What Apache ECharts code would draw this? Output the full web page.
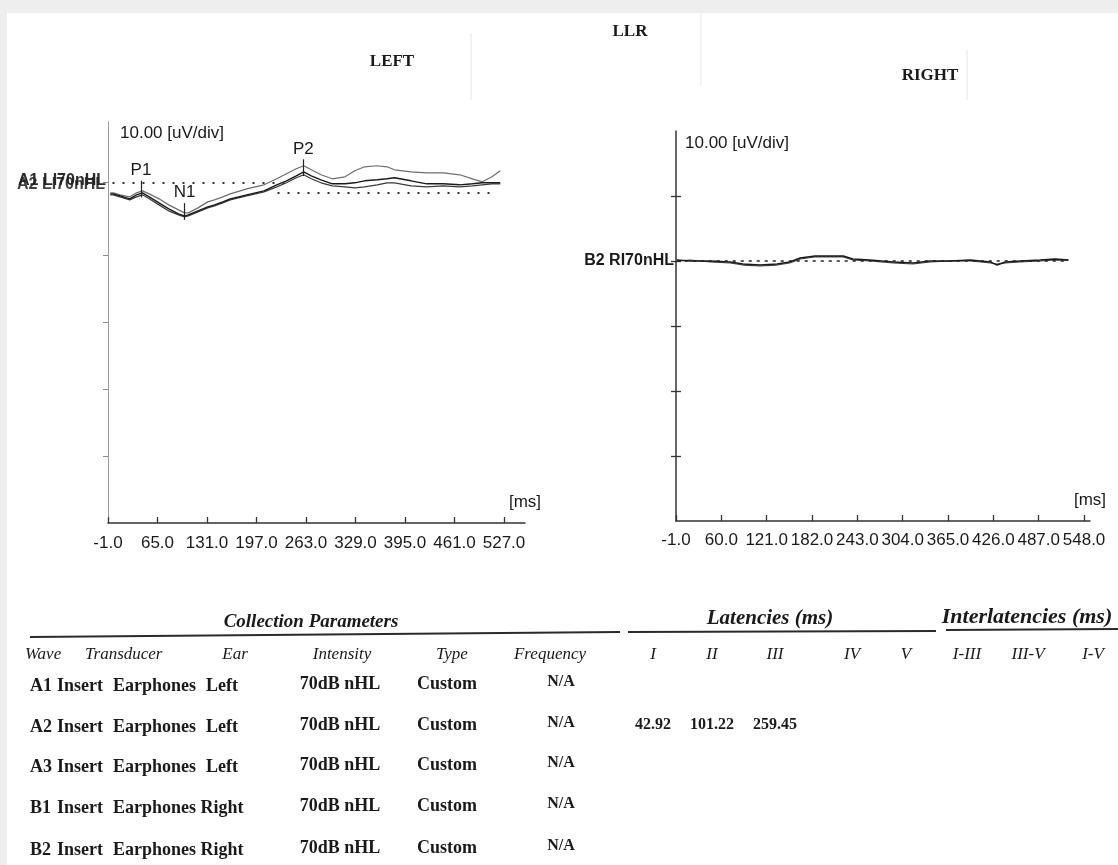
<!DOCTYPE html>
<html><head><meta charset="utf-8">
<script src="https://cdn.jsdelivr.net/npm/echarts@6/dist/echarts.min.js"></script>
<style>
html,body{margin:0;padding:0;background:#eeeeee;}
#chart{position:absolute;left:0;top:0;width:1118px;height:865px;background:#ffffff;box-shadow:inset 7px 13px 0 #eeeeee;}
</style></head><body><div id="chart"></div>
<script>
// ---------- data ----------
const leftTimes = [2,6,15,28,37,45,54,67,80,93,101,106,119,132,141,152,162,184,207,224,237,250,260,270,283,298,315,328,341,358,371,381,403,424,446,468,485,498,511,522];
const traceA1 = [-0.6,-0.6,-0.9,-1.2,-0.6,-0.3,-0.75,-1.5,-2.4,-3.15,-3.6,-3.6,-2.85,-1.95,-1.65,-1.2,-0.75,0,0.6,1.5,2.25,3.0,3.45,2.85,2.1,1.5,1.8,2.7,3.3,3.45,3.3,2.85,2.55,2.4,2.4,2.1,1.5,1.05,1.8,2.7];
const traceA2 = [-0.75,-0.75,-1.05,-1.5,-0.9,-0.6,-1.2,-2.1,-3.0,-3.75,-4.05,-3.9,-3.3,-2.7,-2.4,-1.95,-1.5,-0.9,-0.3,0.6,1.2,1.95,2.55,1.95,1.35,0.75,0.75,0.9,1.2,1.35,1.5,1.65,1.2,0.75,0.75,0.6,0.75,0.9,0.9,0.9];
const traceA3 = [-0.9,-0.9,-1.2,-1.65,-1.2,-0.9,-1.5,-2.4,-3.3,-3.9,-4.2,-4.05,-3.45,-2.85,-2.55,-2.1,-1.65,-1.05,-0.45,0.3,0.9,1.65,2.1,1.5,0.9,0.45,0.3,0.15,0.3,0.6,0.9,0.9,0.45,0.3,0.45,0.3,0.45,0.6,0.75,0.75];
const rightTimes = [0,18,45,72,89,112,135,152,166,186,224,237,260,291,318,341,368,395,422,431,442,462,489,509,527];
const traceB1 = [0,0.15,-0.15,-0.31,-0.62,-0.77,-0.62,-0.31,0.31,0.62,0.62,0.15,0,-0.31,-0.46,-0.15,0,0,-0.31,-0.46,-0.31,-0.15,0,0.15,0.15];
const traceB2 = [0.15,0,0,-0.15,-0.46,-0.62,-0.46,-0.15,0.46,0.77,0.77,0.31,0.15,-0.15,-0.31,0,0,0.15,-0.15,-0.62,-0.15,0,0.15,0.31,0.15];
const peakNames = ['P1','N1','P2'];
const peakLatencies = [42.92,101.22,259.45];
const leftTicks = [-1,65,131,197,263,329,395,461,527];
const rightTicks = [-1,60,121,182,243,304,365,426,487,548];
const leftTraceLabelTop = 'A1 LI70nHL';
const leftTraceLabelBottom = 'A2 LI70nHL';
const rightTraceLabel = 'B2 RI70nHL';
const scaleText = '10.00 [uV/div]';
const unitText = '[ms]';

const waves = ['A1','A2','A3','B1','B2'];
const transducerA = ['Insert','Insert','Insert','Insert','Insert'];
const transducerB = ['Earphones','Earphones','Earphones','Earphones','Earphones'];
const ears = ['Left','Left','Left','Right','Right'];
const intensities = ['70dB nHL','70dB nHL','70dB nHL','70dB nHL','70dB nHL'];
const types = ['Custom','Custom','Custom','Custom','Custom'];
const frequencies = ['N/A','N/A','N/A','N/A','N/A'];
const latencies = [[],['42.92','101.22','259.45'],[],[],[]];
const paramHeaders = ['Wave','Transducer','Ear','Intensity','Type','Frequency'];
const latencyHeaders = ['I','II','III','IV','V'];
const interHeaders = ['I-III','III-V','I-V'];

// ---------- helpers ----------
function interp(ts, vs, t){
  for(let i=0;i<ts.length-1;i++){
    if(t>=ts[i] && t<=ts[i+1]){const f=(t-ts[i])/(ts[i+1]-ts[i]);return vs[i]+f*(vs[i+1]-vs[i]);}
  }
  return vs[vs.length-1];
}
const pairs=(ts,vs)=>ts.map((t,i)=>[t,vs[i]]);
function fontExists(name){
  const c=document.createElement('canvas').getContext('2d');
  c.font='40px monospace'; const a=c.measureText('mmmmiiii0123').width;
  c.font='40px "'+name+'", monospace'; const b=c.measureText('mmmmiiii0123').width;
  return Math.abs(a-b)>0.5;
}
const HAS_NARROW=fontExists('Liberation Sans Narrow');
const SANS='"Liberation Sans", Arial, sans-serif';
const NARROW=HAS_NARROW?'"Liberation Sans Narrow", "Liberation Sans", sans-serif':SANS;
const TICK_SIZE=HAS_NARROW?19:17;
const NAME_SIZE=HAS_NARROW?19:17;
const SERIF='"Liberation Serif", "Times New Roman", serif';
function txt(text,x,y,font,align){
  return {type:'text',silent:true,z:10,style:{text:text,x:x,y:y,font:font,fill:'#1a1a1a',align:align||'left',verticalAlign:'middle'}};
}
function ln(x1,y1,x2,y2,color,w){
  return {type:'line',silent:true,z:5,shape:{x1:x1,y1:y1,x2:x2,y2:y2},style:{stroke:color,lineWidth:w}};
}

// ---------- graphic (titles + table) ----------
const g=[];
g.push(ln(471,33,471,100,'#e4e4e4',1));
g.push(ln(701,13,701,85,'#e4e4e4',1));
g.push(ln(967,50,967,100,'#e4e4e4',1));
g.push(txt('LLR',630,32,'bold 17px '+SERIF,'center'));
g.push(txt('LEFT',392,62,'bold 17px '+SERIF,'center'));
g.push(txt('RIGHT',930,76,'bold 17px '+SERIF,'center'));

g.push(txt('Collection Parameters',311,622,'bold italic 19px '+SERIF,'center'));
g.push(txt('Latencies (ms)',770,619,'bold italic 21px '+SERIF,'center'));
g.push(txt('Interlatencies (ms)',1027,617,'bold italic 22px '+SERIF,'center'));
g.push(ln(30,637,620,632,'#2a2a2a',2));
g.push(ln(628,632,936,631,'#2a2a2a',2));
g.push(ln(946,630,1118,629,'#2a2a2a',2));

const hy=655, hf='italic 17px '+SERIF;
g.push(txt(paramHeaders[0],25,hy,hf,'left'));
g.push(txt(paramHeaders[1],85,hy,hf,'left'));
g.push(txt(paramHeaders[2],235,hy,hf,'center'));
g.push(txt(paramHeaders[3],342,hy,hf,'center'));
g.push(txt(paramHeaders[4],452,hy,hf,'center'));
g.push(txt(paramHeaders[5],550,hy,hf,'center'));
const latX=[653,712,775,852,906];
latencyHeaders.forEach((h,i)=>g.push(txt(h,latX[i],hy,hf,'center')));
const intX=[967,1028,1093];
interHeaders.forEach((h,i)=>g.push(txt(h,intX[i],hy,hf,'center')));

const rowY=[686,727,767,808,850], rf='bold 18px '+SERIF;
waves.forEach((w,i)=>{
  const y=rowY[i];
  g.push(txt(w,30,y,rf,'left'));
  g.push(txt(transducerA[i],57,y,rf,'left'));
  g.push(txt(transducerB[i],113,y,rf,'left'));
  g.push(txt(ears[i],222,y,rf,'center'));
  g.push(txt(intensities[i],340,y-2,rf,'center'));
  g.push(txt(types[i],447,y-2,rf,'center'));
  g.push(txt(frequencies[i],561,y-4,'bold 16px '+SERIF,'center'));
  latencies[i].forEach((v,j)=>g.push(txt(v,latX[j],y-2,'bold 16px '+SERIF,'center')));
});

// ---------- chart ----------
const chart=echarts.init(document.getElementById('chart'),null,{renderer:'canvas'});
const axisFont={fontFamily:NARROW,fontSize:TICK_SIZE,color:'#1a1a1a'};
const nameFont={fontFamily:NARROW,fontSize:NAME_SIZE,color:'#1a1a1a'};

const peakLines=peakNames.map((n,i)=>{
  const v=interp(leftTimes,traceA2,peakLatencies[i]);
  return [{coord:[peakLatencies[i],v-0.6],label:{show:true,position:'end',formatter:n,fontFamily:NARROW,fontSize:NAME_SIZE,color:'#1a1a1a',distance:2},lineStyle:{type:'solid',color:'#222',width:1.2}},
          {coord:[peakLatencies[i],v+1.9]}];
});
const baseLines=[
  [{coord:[5,0.95],label:{show:false},lineStyle:{type:[2,8],color:'#333',width:1.8}},{coord:[240,0.95]}],
  [{coord:[225,-0.55],label:{show:false},lineStyle:{type:[2,8],color:'#333',width:1.8}},{coord:[518,-0.55]}]
];
const yLabelCommon={margin:2,fontFamily:NARROW,fontSize:HAS_NARROW?19:16,fontWeight:'bold',hideOverlap:false};

const option={
  animation:false,
  backgroundColor:'transparent',
  graphic:g,
  grid:[
    {left:108,top:122,width:417,height:401,containLabel:false},
    {left:676,top:131,width:414,height:390,containLabel:false}
  ],
  xAxis:[
    {type:'value',gridIndex:0,min:-1,max:555,position:'bottom',splitLine:{show:false},
     axisLine:{onZero:false,lineStyle:{color:'#333',width:1.5}},
     axisTick:{inside:true,length:6,customValues:leftTicks,lineStyle:{color:'#333',width:1.3}},
     axisLabel:Object.assign({customValues:leftTicks,margin:12,formatter:v=>v.toFixed(1)},axisFont),
     name:unitText,nameLocation:'end',nameGap:0,
     nameTextStyle:Object.assign({align:'center',verticalAlign:'bottom',padding:[0,0,12,0]},nameFont)},
    {type:'value',gridIndex:1,min:-1,max:556,position:'bottom',splitLine:{show:false},
     axisLine:{onZero:false,lineStyle:{color:'#333',width:1.5}},
     axisTick:{inside:true,length:6,customValues:rightTicks,lineStyle:{color:'#333',width:1.3}},
     axisLabel:Object.assign({customValues:rightTicks,margin:11,formatter:v=>v.toFixed(1)},axisFont),
     name:unitText,nameLocation:'end',nameGap:0,
     nameTextStyle:Object.assign({align:'center',verticalAlign:'bottom',padding:[0,0,12,0]},nameFont)}
  ],
  yAxis:[
    {type:'value',gridIndex:0,min:-50,max:10,position:'left',splitLine:{show:false},
     axisLine:{show:true,onZero:false,lineStyle:{color:'#9a9a9a',width:1}},
     axisTick:{show:true,length:5,customValues:[-40,-30,-20,-10,1.0],lineStyle:{color:'#888',width:1}},
     axisLabel:Object.assign({customValues:[1.3],color:'#2a2a2a',formatter:()=>leftTraceLabelTop},yLabelCommon),
     name:scaleText,nameLocation:'end',nameGap:-11,
     nameTextStyle:Object.assign({align:'left',verticalAlign:'middle',padding:[0,0,0,12]},nameFont)},
    {type:'value',gridIndex:0,min:-50,max:10,position:'left',offset:1,splitLine:{show:false},
     axisLine:{show:false,onZero:false},axisTick:{show:false},
     axisLabel:Object.assign({customValues:[0.6],color:'rgba(30,30,30,0.85)',formatter:()=>leftTraceLabelBottom},yLabelCommon)},
    {type:'value',gridIndex:1,min:-40,max:20,position:'left',splitLine:{show:false},
     axisLine:{show:true,onZero:false,lineStyle:{color:'#333',width:1.5}},
     axisTick:{show:true,length:5,customValues:[-30,-20,-10,0,10],lineStyle:{color:'#333',width:1.3}},
     axisLabel:Object.assign({customValues:[0],color:'#1a1a1a',formatter:()=>rightTraceLabel},yLabelCommon),
     name:scaleText,nameLocation:'end',nameGap:-12,
     nameTextStyle:Object.assign({align:'left',verticalAlign:'middle',padding:[0,0,0,9]},nameFont)},
    {type:'value',gridIndex:1,min:-40,max:20,position:'left',splitLine:{show:false},
     axisLine:{show:false,onZero:false},
     axisTick:{show:true,inside:true,length:5,customValues:[-30,-20,-10,0,10],lineStyle:{color:'#333',width:1.3}},
     axisLabel:{show:false}}
  ],
  series:[
    {name:'A1',type:'line',xAxisIndex:0,yAxisIndex:0,data:pairs(leftTimes,traceA1),symbol:'none',lineStyle:{color:'#6e6e6e',width:1.2}},
    {name:'A3',type:'line',xAxisIndex:0,yAxisIndex:0,data:pairs(leftTimes,traceA3),symbol:'none',lineStyle:{color:'#3a3a3a',width:1.2}},
    {name:'A2',type:'line',xAxisIndex:0,yAxisIndex:0,data:pairs(leftTimes,traceA2),symbol:'none',lineStyle:{color:'#1a1a1a',width:1.4},
     markLine:{silent:true,symbol:['none','none'],animation:false,data:peakLines.concat(baseLines)}},
    {name:'B1',type:'line',xAxisIndex:1,yAxisIndex:2,data:pairs(rightTimes,traceB1),symbol:'none',lineStyle:{color:'#444',width:1.2}},
    {name:'B2',type:'line',xAxisIndex:1,yAxisIndex:2,data:pairs(rightTimes,traceB2),symbol:'none',lineStyle:{color:'#1a1a1a',width:1.4},
     markLine:{silent:true,symbol:['none','none'],animation:false,
       data:[[{coord:[0,0],label:{show:false},lineStyle:{type:[3,5],color:'#222',width:1.5}},{coord:[527,0]}]]}}
  ]
};
chart.setOption(option);
</script></body></html>
